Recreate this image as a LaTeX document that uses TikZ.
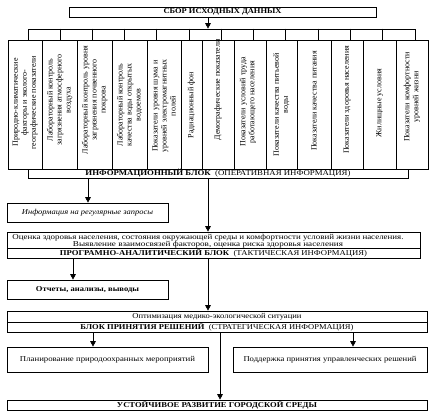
\documentclass[tikz,border=0pt]{standalone}
\usepackage{fontspec}
\setmainfont{Liberation Serif}
\usetikzlibrary{arrows.meta,calc}
\newcommand\fw[2]{\resizebox{#1pt}{\height}{#2}}
\begin{document}
\begin{tikzpicture}[x=1pt,y=-1pt,
  box/.style={draw, line width=0.65pt, inner sep=0pt, font=\fontsize{7.5}{8}\selectfont},
  col/.style={draw, line width=0.65pt, inner sep=0pt, minimum height=129pt},
  coltext/.style={rotate=90, align=center, inner sep=0pt, font=\fontsize{8}{9}\selectfont},
  txt/.style={inner sep=0pt, font=\fontsize{7.5}{8}\selectfont},
  arr/.style={line width=0.65pt, -{Triangle[length=5.5pt,width=5.5pt]}}
]
\fill[white] (0,0) rectangle (439,415);
\useasboundingbox (0,0) rectangle (439,415);

% top box
\node[box, minimum width=307pt, minimum height=10pt] (top) at (222.5,12) {\fw{118}{\bfseries СБОР ИСХОДНЫХ ДАННЫХ}};
% comb strip
\node[box, minimum width=387pt, minimum height=11pt] (comb) at (221.5,34.5) {};
\foreach \i in {1,...,11}{
  \draw[line width=0.65pt] ($(comb.north west)+(\i*32.25,0)$) -- ($(comb.south west)+(\i*32.25,0)$);
}
% columns
\node[col, minimum width=34pt] (c1) at (25,104.5) {};
\node[col, minimum width=35pt] (c2) at (59.5,104.5) {};
\node[col, minimum width=35pt] (c3) at (94.5,104.5) {};
\node[col, minimum width=35pt] (c4) at (129.5,104.5) {};
\node[col, minimum width=34pt] (c5) at (164,104.5) {};
\node[col, minimum width=21pt] (c6) at (191.5,104.5) {};
\node[col, minimum width=32pt] (c7) at (218,104.5) {};
\node[col, minimum width=32pt] (c8) at (250,104.5) {};
\node[col, minimum width=31pt] (c9) at (281.5,104.5) {};
\node[col, minimum width=34pt] (c10) at (314,104.5) {};
\node[col, minimum width=32pt] (c11) at (347,104.5) {};
\node[col, minimum width=33pt] (c12) at (379.5,104.5) {};
\node[col, minimum width=32pt] (c13) at (412,104.5) {};

\node[coltext] (t1) at (25,102.5) {Природно-климатические\\факторы и эколого-\\географические показатели};
\node[coltext] (t2) at (59.5,100) {Лабораторный контроль\\загрязнения атмосферного\\воздуха};
\node[coltext] (t3) at (94.5,100) {Лабораторный контроль уровня\\загрязнения почвенного\\покрова};
\node[coltext] (t4) at (129.5,105) {Лабораторный контроль\\качества воды открытых\\водоемов};
\node[coltext] (t5) at (164,106) {Показатели уровня шума и\\уровней электромагнитных\\полей};
\node[coltext] (t6) at (191.5,105) {Радиационный фон};
\node[coltext] (t7) at (218,90) {Демографические показатели};
\node[coltext] (t8) at (248,102) {Показатели условий труда\\работающего населения};
\node[coltext] (t9) at (281.5,105) {Показатели качества питьевой\\воды};
\node[coltext] (t10) at (314,101) {Показатели качества питания};
\node[coltext] (t11) at (347,100) {Показатели здоровья населения};
\node[coltext] (t12) at (379.5,103) {Жилищные условия};
\node[coltext] (t13) at (412,97) {Показатели комфортности\\уровней жизни};

% info strip
\node[box, minimum width=380pt, minimum height=9pt] (info) at (218,173.5) {\fw{265}{\bfseries ИНФОРМАЦИОННЫЙ БЛОК\mdseries\ \ (ОПЕРАТИВНАЯ ИНФОРМАЦИЯ)}};
% info request
\node[box, minimum width=161pt, minimum height=19pt] (req) at (87.5,212.5) {\fw{131}{\itshape Информация на регулярные запросы}};
% estimation
\node[box, minimum width=413pt, minimum height=16pt] (est) at (213.5,240) {};
\node[txt] (e1) at (208,237.5) {\fw{391}{Оценка здоровья населения, состояния окружающей среды и комфортности условий жизни населения.}};
\node[txt] (e2) at (208,244.2) {\fw{270}{Выявление взаимосвязей факторов, оценка риска здоровья населения}};
\node[box, minimum width=413pt, minimum height=10pt] (prog) at (213.5,253) {\fw{307}{\bfseries ПРОГРАМНО-АНАЛИТИЧЕСКИЙ БЛОК\mdseries\ \ (ТАКТИЧЕСКАЯ ИНФОРМАЦИЯ)}};
% reports
\node[box, minimum width=161pt, minimum height=19pt] (rep) at (87.5,289.5) {\fw{103}{\bfseries Отчеты, анализы, выводы}};
% optimisation
\node[box, minimum width=420pt, minimum height=11pt] (opt) at (217,316.5) {\fw{169}{Оптимизация медико-экологической ситуации}};
\node[box, minimum width=420pt, minimum height=10pt] (dec) at (217,327) {\fw{273}{\bfseries БЛОК ПРИНЯТИЯ РЕШЕНИЙ\mdseries\ \ (СТРАТЕГИЧЕСКАЯ ИНФОРМАЦИЯ)}};
% plan / support
\node[box, minimum width=201pt, minimum height=25pt] (plan) at (107.5,359.5) {\fw{175}{Планирование природоохранных мероприятий}};
\node[box, minimum width=194pt, minimum height=25pt] (supp) at (330,359.5) {\fw{173}{Поддержка принятия управленческих решений}};
% final
\node[box, minimum width=420pt, minimum height=10pt] (final) at (217,405) {\fw{200}{\bfseries УСТОЙЧИВОЕ РАЗВИТИЕ ГОРОДСКОЙ СРЕДЫ}};

% x positions of connectors
\coordinate (xa) at (208,0);
\coordinate (xb) at (88,0);
\coordinate (xc) at (73,0);
\coordinate (xd) at (93,0);
\coordinate (xe) at (353,0);
\coordinate (xf) at (220,0);

\draw[arr] (top.south -| xa) -- (comb.north -| xa);
\draw[arr] (info.south -| xb) -- (req.north -| xb);
\draw[arr] (info.south -| xa) -- (est.north -| xa);
\draw[arr] (prog.south -| xc) -- (rep.north -| xc);
\draw[arr] (prog.south -| xa) -- (opt.north -| xa);
\draw[arr] (dec.south -| xd) -- (plan.north -| xd);
\draw[arr] (dec.south -| xe) -- (supp.north -| xe);
\draw[arr] (dec.south -| xf) -- (final.north -| xf);
\end{tikzpicture}
\end{document}
